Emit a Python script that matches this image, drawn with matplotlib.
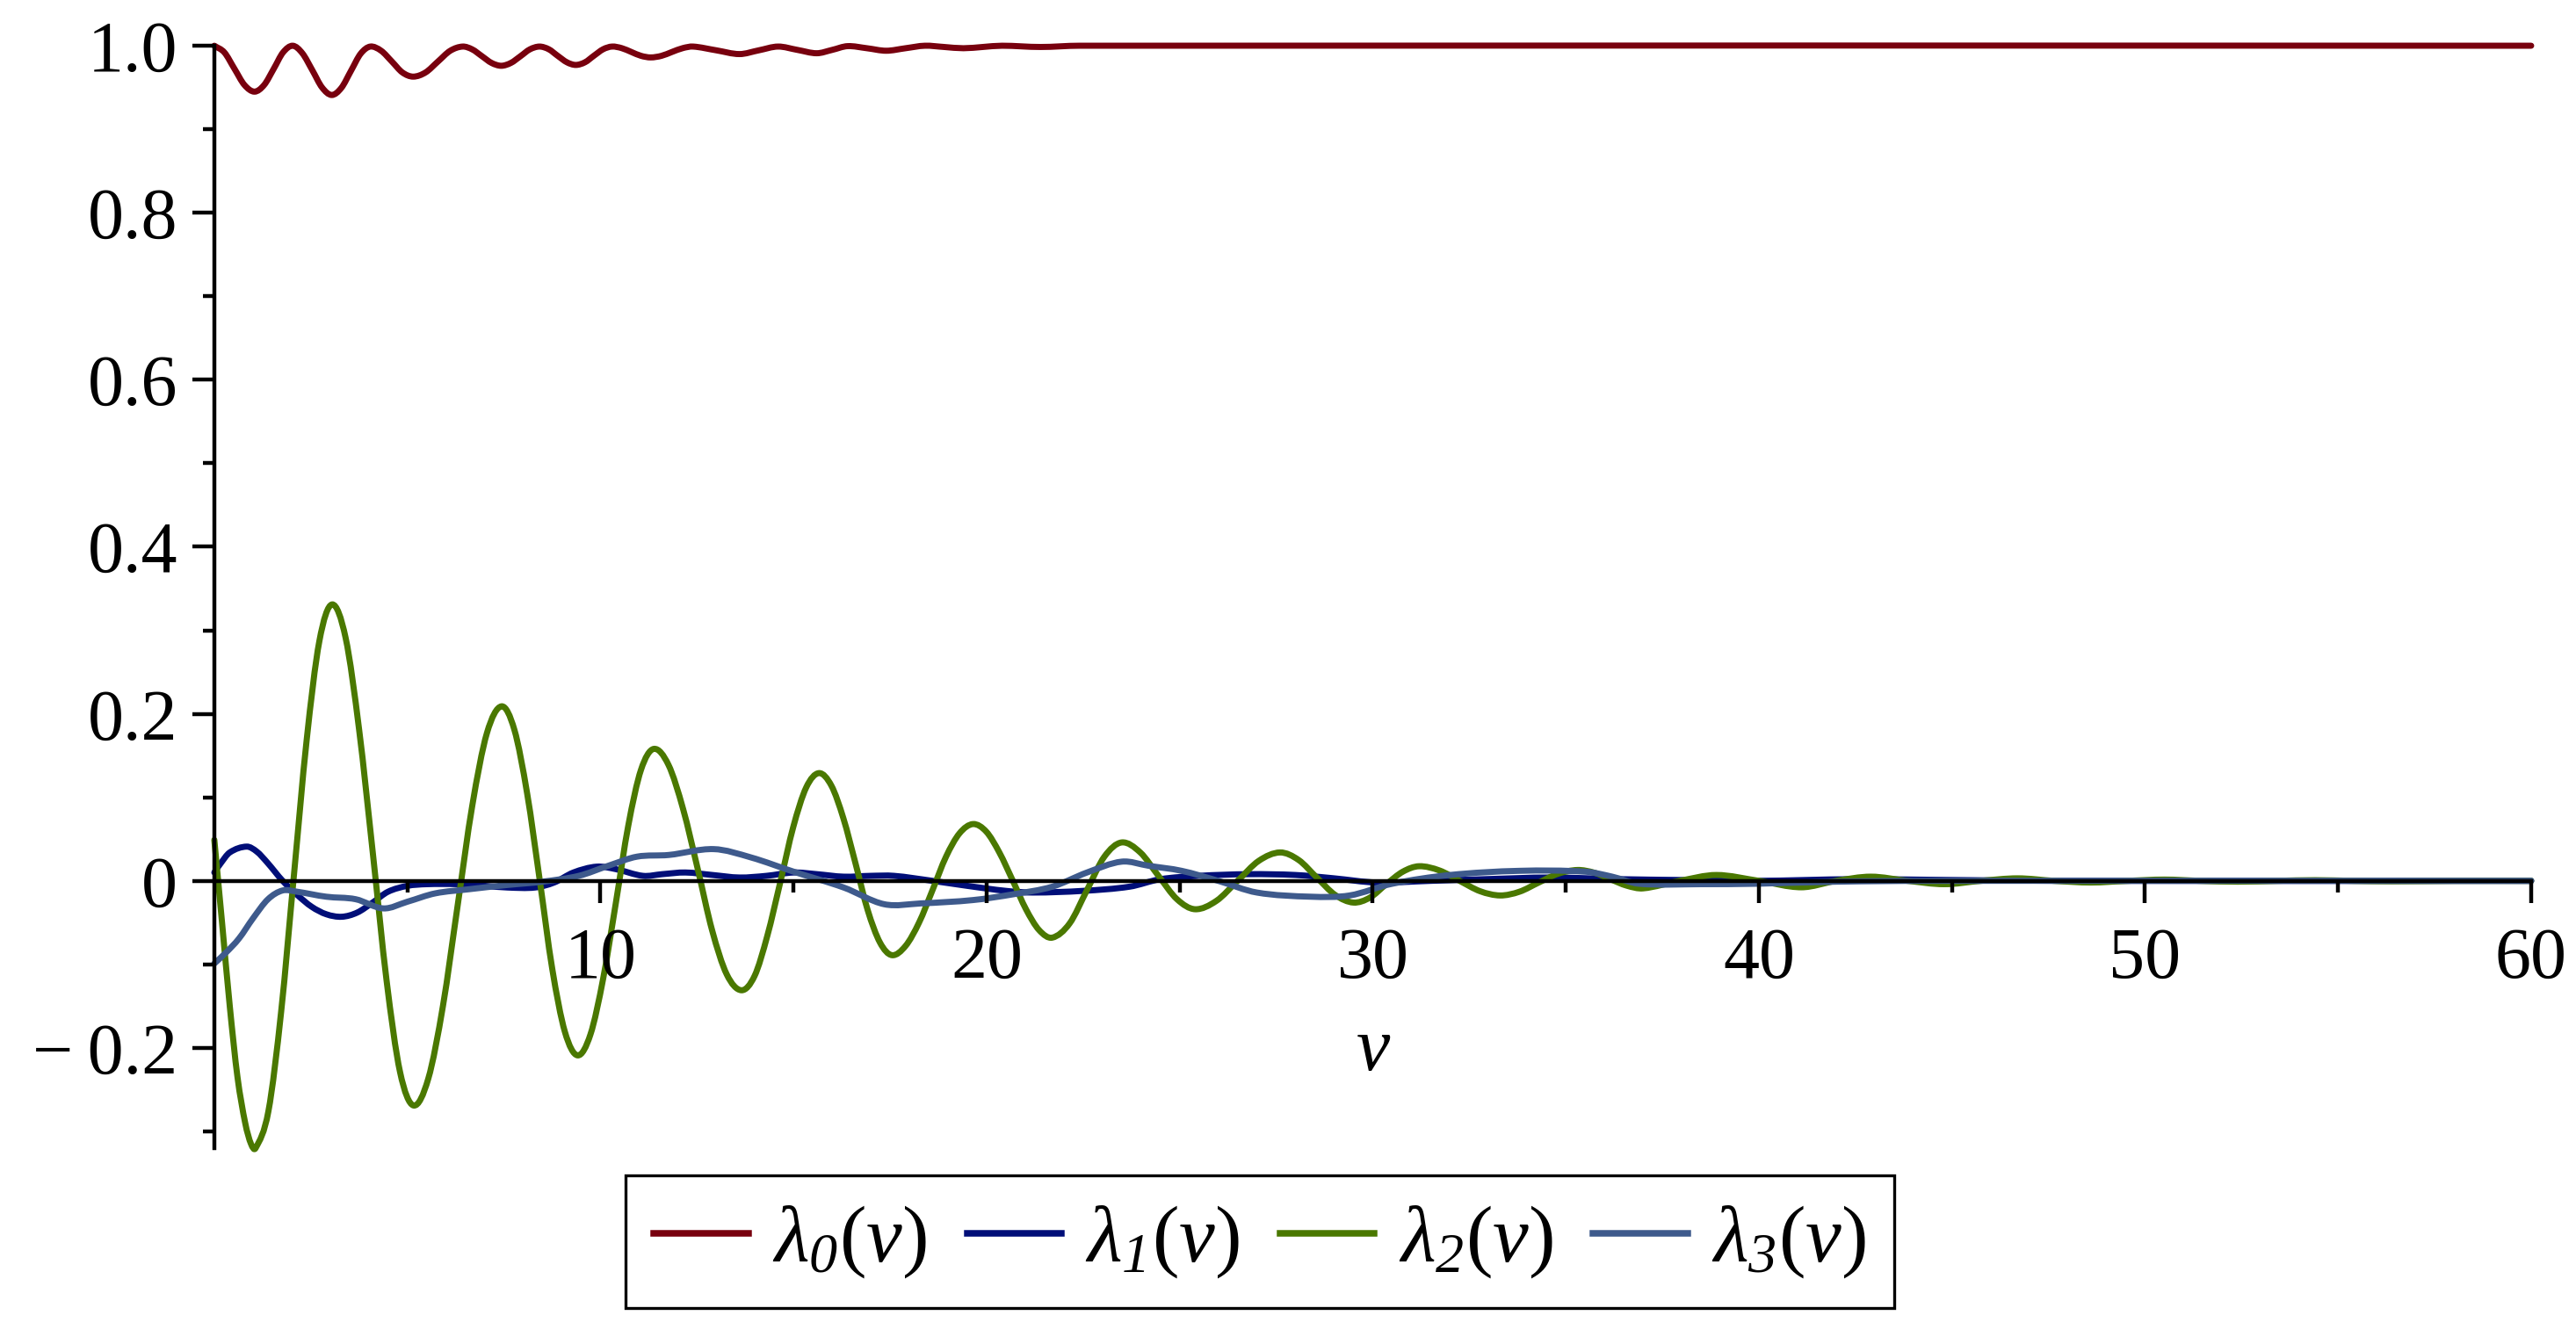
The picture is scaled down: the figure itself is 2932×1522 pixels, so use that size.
import matplotlib
matplotlib.use("Agg")
import matplotlib.pyplot as plt
from matplotlib.path import Path
from matplotlib.patches import PathPatch
from matplotlib.lines import Line2D

plt.rcParams['font.family'] = ['Liberation Serif', 'DejaVu Serif']
plt.rcParams['mathtext.fontset'] = 'custom'
plt.rcParams['mathtext.rm'] = 'Liberation Serif'
plt.rcParams['mathtext.it'] = 'Liberation Serif:italic'
plt.rcParams['mathtext.cal'] = 'Liberation Serif:italic'

# values
v0 = [0, 0.26, 0.52, 0.78, 1.04, 1.29, 1.54, 1.78, 2.03, 2.28, 2.54, 2.79, 3.04,
      3.29, 3.54, 3.79, 4.04, 4.32, 4.60, 4.87, 5.15, 5.47, 5.79, 6.11, 6.43,
      6.68, 6.93, 7.18, 7.43, 7.68, 7.93, 8.17, 8.42, 8.66, 8.89, 9.13, 9.36,
      9.60, 9.83, 10.07, 10.30, 10.55, 10.80, 11.05, 11.30, 11.58, 11.85, 12.13,
      12.40, 13.0, 13.6, 14.1, 14.6, 15.1, 15.6, 16.0, 16.4, 16.9, 17.4, 17.9,
      18.4, 18.9, 19.4, 19.9, 20.4, 21.4, 22.4, 60]
lam0 = [1.0, 0.992, 0.9725, 0.953, 0.945, 0.953, 0.9725, 0.992, 1.0,
        0.991, 0.9705, 0.950, 0.941, 0.9495, 0.970, 0.9905, 0.999,
        0.994, 0.981, 0.968, 0.963, 0.968, 0.981, 0.994, 0.999,
        0.9956, 0.9875, 0.9794, 0.976, 0.9794, 0.9875, 0.9956, 0.999,
        0.9958, 0.988, 0.9802, 0.977, 0.9802, 0.988, 0.9958, 0.999,
        0.9971, 0.9925, 0.9879, 0.986, 0.9879, 0.9925, 0.9971, 0.999,
        0.9945, 0.990, 0.9945, 0.999, 0.995, 0.991, 0.995, 0.9995, 0.997,
        0.994, 0.997, 1.0, 0.9985, 0.997, 0.9985, 1.0, 0.9985, 1.0, 1.0]

v1 = [0, 0.15, 0.4, 0.84, 1.1, 1.37, 1.77, 2.15, 2.52, 2.9,
      3.3, 3.7, 4.1, 4.5, 5.0, 5.5, 6.3, 7.0, 7.6, 8.3,
      8.8, 9.3, 9.9, 10.4, 11.1, 11.6, 12.2, 12.9, 13.6, 14.3,
      15.0, 15.6, 16.3, 17.0, 17.6, 18.6, 19.5, 20.5, 21.2, 22.5,
      23.7, 24.5, 25.5, 26.8, 28.0, 29.0, 30.1, 31.5, 32.9, 34.6,
      36.4, 38.0, 39.9, 42.5, 45.0, 48.0, 60.0]
lam1 = [0.010, 0.020, 0.034, 0.041, 0.035, 0.022, 0.0, -0.017, -0.031, -0.040,
        -0.043, -0.038, -0.026, -0.013, -0.006, -0.004, -0.004, -0.006, -0.008, -0.008,
        -0.002, 0.010, 0.017, 0.014, 0.006, 0.008, 0.010, 0.007, 0.004, 0.006,
        0.010, 0.008, 0.005, 0.006, 0.006, 0.0, -0.006, -0.012, -0.014, -0.012,
        -0.007, 0.002, 0.006, 0.008, 0.007, 0.003, -0.002, 0.0, 0.002, 0.004,
        0.002, 0.001, 0.0, 0.002, 0.001, 0.0, 0.0]

v2 = [0, 0.2, 0.4, 0.6, 0.8, 0.95, 1.07, 1.40, 1.73, 2.06, 2.39, 2.72, 3.05,
      3.40, 3.75, 4.11, 4.46, 4.81, 5.16, 5.54, 5.92, 6.30, 6.68, 7.06, 7.44,
      7.77, 8.10, 8.43, 8.75, 9.08, 9.41, 9.74, 10.07, 10.40, 10.72, 11.05, 11.38,
      11.76, 12.14, 12.52, 12.89, 13.27, 13.65, 13.99, 14.32, 14.66, 14.99, 15.33,
      15.66, 15.98, 16.29, 16.61, 16.92, 17.24, 17.55, 17.90, 18.25, 18.60, 18.95,
      19.30, 19.65, 19.99, 20.33, 20.68, 21.02, 21.36, 21.70, 22.15, 22.60, 23.05,
      23.50, 23.98, 24.45, 24.93, 25.40, 25.95, 26.50, 27.05, 27.60, 28.08, 28.55,
      29.03, 29.50, 29.93, 30.35, 30.78, 31.20, 31.73, 32.25, 32.78, 33.30, 33.80,
      34.30, 34.80, 35.30, 35.73, 36.15, 36.58, 37.00, 37.95, 38.90, 40.00, 41.10,
      42.00, 42.90, 43.85, 44.80, 45.75, 46.70, 47.65, 48.60, 49.55, 50.50, 51.45,
      52.40, 53.40, 54.40, 55.40, 56.40, 58.0, 60.0]
lam2 = [0.049, -0.05, -0.15, -0.235, -0.29, -0.315, -0.320,
        -0.276, -0.157, 0.006, 0.168, 0.287, 0.331,
        0.291, 0.181, 0.031, -0.119, -0.229, -0.269,
        -0.237, -0.150, -0.030, 0.090, 0.177, 0.209,
        0.181, 0.105, 0.0, -0.105, -0.181, -0.209,
        -0.184, -0.117, -0.026, 0.066, 0.133, 0.158,
        0.139, 0.086, 0.014, -0.059, -0.112, -0.131,
        -0.114, -0.066, -0.001, 0.064, 0.112, 0.129,
        0.114, 0.075, 0.020, -0.035, -0.074, -0.089,
        -0.078, -0.050, -0.011, 0.029, 0.057, 0.068,
        0.059, 0.034, 0.0, -0.034, -0.059, -0.068,
        -0.051, -0.011, 0.029, 0.046,
        0.034, 0.006, -0.022, -0.034,
        -0.024, 0.0, 0.024, 0.034,
        0.025, 0.004, -0.017, -0.026,
        -0.020, -0.004, 0.011, 0.0175,
        0.0124, 0.0, -0.0124, -0.0175,
        -0.013, -0.002, 0.0085, 0.013,
        0.0098, 0.002, -0.0058, -0.009,
        0.0, 0.007, 0.0, -0.0077, 0.0, 0.005, 0.0, -0.004, 0.0, 0.003, 0.0,
        -0.002, 0.0, 0.0015, 0.0, -0.001, 0.0, 0.0008, 0.0, -0.0005, 0.0, 0.0]

v3 = [0, 0.3, 0.64, 1.0, 1.39, 1.77, 2.14, 2.9, 3.66, 4.38,
      5.0, 5.72, 6.6, 7.58, 8.5, 9.44, 10.2, 10.95, 11.77, 12.93,
      13.9, 15.0, 16.3, 17.35, 18.3, 19.65, 20.7, 21.7, 22.6, 23.5,
      24.2, 25.05, 26.0, 27.0, 28.4, 29.4, 30.5, 32.0, 33.8, 35.5,
      36.2, 36.9, 38.5, 39.9, 42.0, 44.4, 60.0]
lam3 = [-0.099, -0.086, -0.069, -0.045, -0.022, -0.0115, -0.013, -0.019, -0.022, -0.033,
        -0.025, -0.015, -0.010, -0.005, -0.001, 0.006, 0.018, 0.029, 0.031, 0.038,
        0.028, 0.011, -0.008, -0.028, -0.027, -0.023, -0.016, -0.007, 0.010, 0.023,
        0.018, 0.012, 0.0, -0.014, -0.019, -0.0175, -0.0035, 0.007, 0.012, 0.011,
        0.005, -0.0035, -0.004, -0.0035, -0.001, 0.0, 0.0]

labels = [r'$\lambda_{\mathcal{0}}(\nu)$', r'$\lambda_{\mathcal{1}}(\nu)$',
          r'$\lambda_{\mathcal{2}}(\nu)$', r'$\lambda_{\mathcal{3}}(\nu)$']
colors = ['#78000E', '#000E78', '#4A7800', '#3E5A8C']

ytick_vals = [-0.2, 0, 0.2, 0.4, 0.6, 0.8, 1.0]
ytick_text = ['\u2212\u20090.2', '0', '0.2', '0.4', '0.6', '0.8', '1.0']
xtick_vals = [10, 20, 30, 40, 50, 60]


def smooth_path(xs, ys):
    # cubic bezier through the read points (drawn by matplotlib as a curve)
    n = len(xs)
    m = []
    for i in range(n):
        a = max(i - 1, 0)
        b = min(i + 1, n - 1)
        m.append((ys[b] - ys[a]) / (xs[b] - xs[a]))
    verts = [(xs[0], ys[0])]
    codes = [Path.MOVETO]
    for i in range(n - 1):
        dx = xs[i + 1] - xs[i]
        verts.append((xs[i] + dx / 3, ys[i] + m[i] * dx / 3))
        verts.append((xs[i + 1] - dx / 3, ys[i + 1] - m[i + 1] * dx / 3))
        verts.append((xs[i + 1], ys[i + 1]))
        codes += [Path.CURVE4] * 3
    return Path(verts, codes)


fig = plt.figure(figsize=(14.66, 7.61), dpi=200)
ax = fig.add_axes([0.0832, 0.1413, 0.8994, 0.8245])

series = [(v0, lam0), (v1, lam1), (v2, lam2), (v3, lam3)]
handles = []
for (xs, ys), c, lab in zip(series, colors, labels):
    patch = PathPatch(smooth_path(xs, ys), facecolor='none', edgecolor=c, lw=2.5,
                      joinstyle='round', capstyle='round', clip_on=False)
    ax.add_patch(patch)
    handles.append(Line2D([], [], color=c, lw=2.7, label=lab))

ax.set_xlim(0, 60)
ax.set_ylim(-0.32, 1.0)

ax.spines['top'].set_visible(False)
ax.spines['right'].set_visible(False)
ax.spines['bottom'].set_position(('data', 0))
ax.spines['left'].set_linewidth(1.6)
ax.spines['bottom'].set_linewidth(1.6)
ax.spines['left'].set_zorder(3)
ax.spines['bottom'].set_zorder(3)

ax.set_xticks(xtick_vals)
ax.set_xticks([5, 15, 25, 35, 45, 55], minor=True)
ax.set_yticks(ytick_vals)
ax.set_yticklabels(ytick_text)
ax.set_yticks([-0.3, -0.1, 0.1, 0.3, 0.5, 0.7, 0.9], minor=True)

ax.tick_params(axis='both', which='major', direction='out', length=9, width=1.6,
               labelsize=29.5)
ax.tick_params(axis='both', which='minor', direction='out', length=4.7, width=1.6)
ax.tick_params(axis='x', which='major', pad=10)
ax.tick_params(axis='y', which='major', pad=6)

ax.text(0.5, 0.0876, '\u03bd', transform=ax.transAxes, ha='center', va='center',
        fontsize=31, style='italic')

leg = ax.legend(handles=handles, loc='center', bbox_to_anchor=(0.4891, 0.0710),
                bbox_transform=fig.transFigure, ncol=4, fontsize=33,
                handlelength=1.17, handletextpad=0.3, columnspacing=0.5,
                borderpad=0.35, fancybox=False, framealpha=1)
leg.get_frame().set_edgecolor('black')
leg.get_frame().set_linewidth(1.2)

fig.savefig('out.png', dpi=200)
